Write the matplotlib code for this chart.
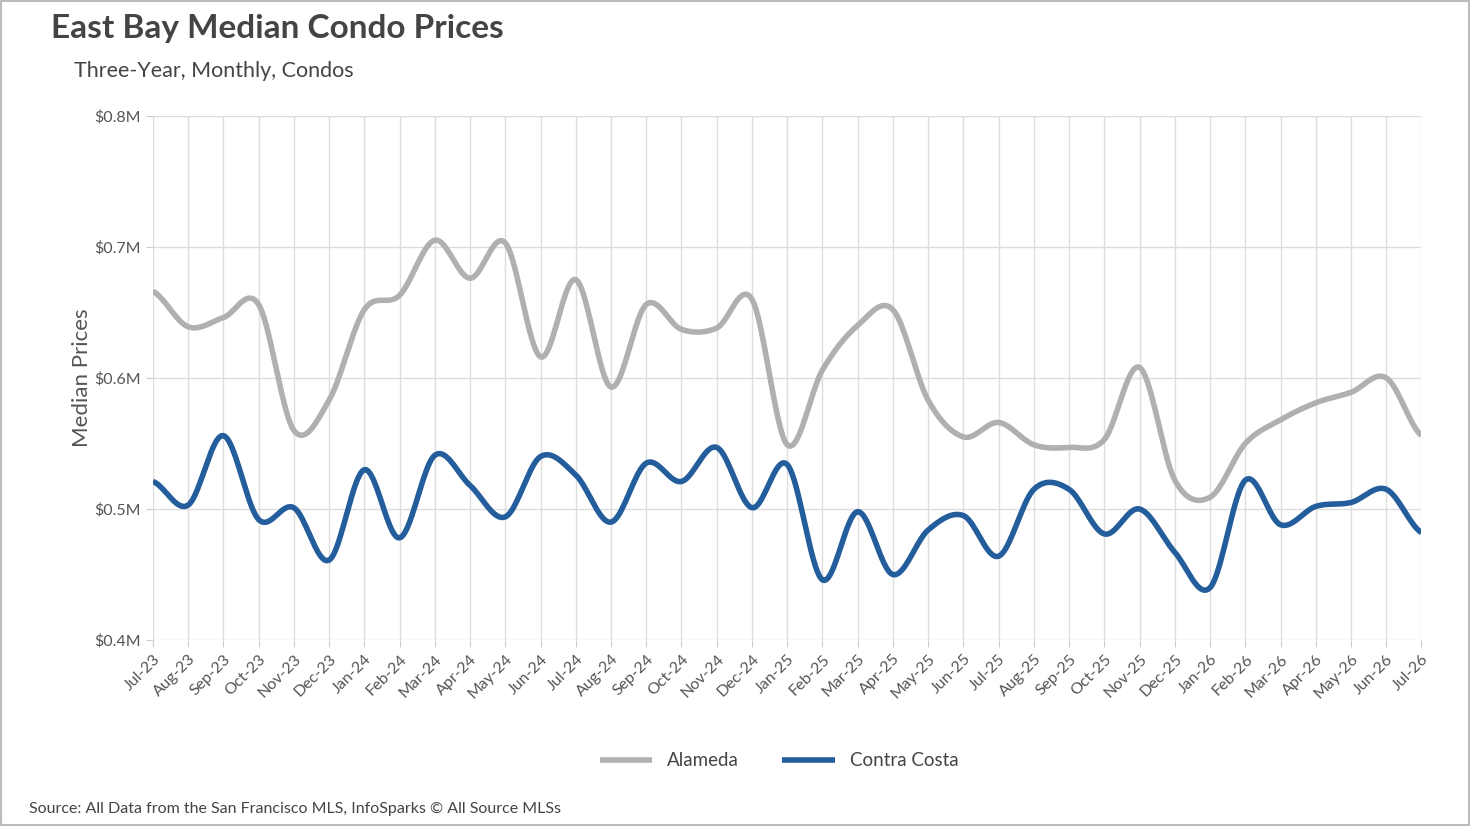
import numpy as np
import matplotlib
matplotlib.use("Agg")
import matplotlib.pyplot as plt
from matplotlib.ticker import FuncFormatter

plt.rcParams['font.family'] = ['Lato', 'DejaVu Sans']

months = ["Jul-23", "Aug-23", "Sep-23", "Oct-23", "Nov-23", "Dec-23", "Jan-24", "Feb-24",
          "Mar-24", "Apr-24", "May-24", "Jun-24", "Jul-24", "Aug-24", "Sep-24", "Oct-24",
          "Nov-24", "Dec-24", "Jan-25", "Feb-25", "Mar-25", "Apr-25", "May-25", "Jun-25",
          "Jul-25", "Aug-25", "Sep-25", "Oct-25", "Nov-25", "Dec-25", "Jan-26", "Feb-26",
          "Mar-26", "Apr-26", "May-26", "Jun-26", "Jul-26"]

alameda = [0.666, 0.639, 0.646, 0.656, 0.560, 0.583, 0.652, 0.663, 0.705, 0.676, 0.703,
           0.616, 0.675, 0.593, 0.656, 0.637, 0.638, 0.660, 0.549, 0.606, 0.640, 0.652,
           0.583, 0.555, 0.566, 0.549, 0.547, 0.553, 0.608, 0.522, 0.509, 0.550, 0.568,
           0.581, 0.589, 0.600, 0.556]

contra_costa = [0.521, 0.503, 0.556, 0.492, 0.501, 0.461, 0.530, 0.478, 0.541, 0.518,
                0.494, 0.540, 0.526, 0.490, 0.535, 0.521, 0.547, 0.501, 0.534, 0.446,
                0.498, 0.450, 0.484, 0.495, 0.464, 0.515, 0.515, 0.481, 0.500, 0.467,
                0.440, 0.522, 0.488, 0.502, 0.505, 0.515, 0.482]


def smooth(y, n=20):
    # catmull-rom curve through the monthly points
    y = np.asarray(y)
    p = np.concatenate([[y[0]], y, [y[-1]]])
    xs, ys = [], []
    t = np.linspace(0, 1, n, endpoint=False)
    for i in range(len(y) - 1):
        p0, p1, p2, p3 = p[i], p[i + 1], p[i + 2], p[i + 3]
        seg = 0.5 * (2 * p1 + (-p0 + p2) * t + (2 * p0 - 5 * p1 + 4 * p2 - p3) * t ** 2
                     + (-p0 + 3 * p1 - 3 * p2 + p3) * t ** 3)
        xs.extend(i + t)
        ys.extend(seg)
    xs.append(len(y) - 1)
    ys.append(y[-1])
    return np.array(xs), np.array(ys)


fig = plt.figure(figsize=(14.7, 8.26), dpi=100)
ax = fig.add_axes([0.104, 0.225, 0.863, 0.635])

x, y = smooth(alameda)
ax.plot(x, y, color='#b0b0b0', lw=4, label='Alameda', solid_capstyle='butt')
x, y = smooth(contra_costa)
ax.plot(x, y, color='#235d9c', lw=4, label='Contra Costa', solid_capstyle='butt')

ax.set_ylim(0.4, 0.8)
ax.set_xlim(0, len(months) - 1)
ax.set_yticks([0.4, 0.5, 0.6, 0.7, 0.8])
ax.yaxis.set_major_formatter(FuncFormatter(lambda v, _: f"${v:.1f}M"))
ax.set_xticks(range(len(months)))
ax.set_xticklabels(months, rotation=45, ha='right', rotation_mode='anchor')
ax.tick_params(colors='#555555', labelsize=11.5, length=5)
ax.tick_params(axis='x', color='#cccccc')
ax.tick_params(axis='y', color='#cccccc')
ax.grid(True, color='#dddddd', lw=1)
ax.set_axisbelow(True)
for s in ax.spines.values():
    s.set_visible(False)
ax.set_ylabel("Median Prices", fontsize=16, color='#555555', labelpad=2)

fig.text(0.035, 0.965, "East Bay Median Condo Prices", fontsize=24, fontweight='bold',
         color='#444444', va='center')
fig.text(0.050, 0.914, "Three-Year, Monthly, Condos", fontsize=15.5, color='#444444', va='center')
fig.text(0.020, 0.020, "Source: All Data from the San Francisco MLS, InfoSparks \u00a9 All Source MLSs",
         fontsize=11.5, color='#444444', va='center')

fig.legend(loc='center', bbox_to_anchor=(0.53, 0.079), ncol=2, frameon=False,
           fontsize=13.5, labelcolor='#444444', handlelength=2.8, columnspacing=2.3)

fig.patches.append(plt.Rectangle((0.001, 0.001), 0.998, 0.998, transform=fig.transFigure,
                                 fill=False, edgecolor='#bbbbbb', lw=1.5))

fig.savefig("out.png", dpi=100)
